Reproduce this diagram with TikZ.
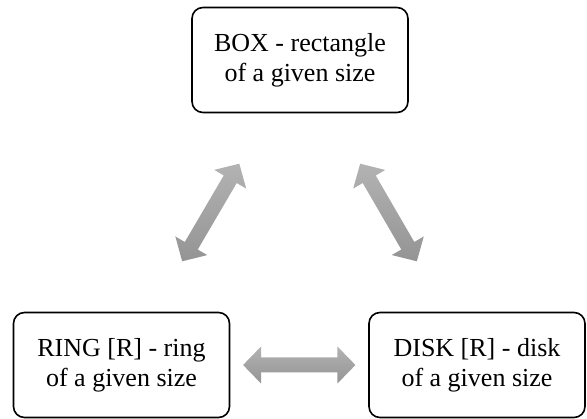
\documentclass[tikz,border=0pt]{standalone}
\usepackage{fontspec}
\newfontfamily\labelfont{Liberation Serif}
\usetikzlibrary{calc}

\tikzset{
  item/.style={draw, line width=1.6pt, rounded corners=11pt,
    minimum width=216pt, minimum height=105pt, inner sep=0pt,
    align=center, font=\labelfont\fontsize{26}{30}\selectfont,
    execute at begin node={\rule{0pt}{25pt}}},
  link/.style={top color=black!30, bottom color=black!42, draw=none}
}

% Two-headed block arrow between coordinates #2 and #3
\newcommand\blockarrow[3][]{%
  \shade[link,#1]
    (#2) -- ($(#2)!18pt!(#3)!18.5pt!90:(#3)$)
         -- ($(#2)!18pt!(#3)!7.5pt!90:(#3)$)
         -- ($(#3)!18pt!(#2)!7.5pt!-90:(#2)$)
         -- ($(#3)!18pt!(#2)!18.5pt!-90:(#2)$)
         -- (#3)
         -- ($(#3)!18pt!(#2)!18.5pt!90:(#2)$)
         -- ($(#3)!18pt!(#2)!7.5pt!90:(#2)$)
         -- ($(#2)!18pt!(#3)!7.5pt!-90:(#3)$)
         -- ($(#2)!18pt!(#3)!18.5pt!-90:(#3)$)
         -- cycle;}

\begin{document}
\begin{tikzpicture}[x=1pt, y=1pt]
  \useasboundingbox (0,0) rectangle (587,-419);

  \node[item] (box)  at (300,-60)  {BOX - rectangle\\of a given size};
  \node[item] (ring) at (121.5,-365) {RING [R] - ring\\of a given size};
  \node[item] (disk) at (477,-365) {DISK [R] - disk\\of a given size};

  \coordinate (rb1) at ($(ring)!0.34!(box)$);
  \coordinate (rb2) at ($(ring)!0.66!(box)$);
  \coordinate (bd1) at ($(box)!0.34!(disk)$);
  \coordinate (bd2) at ($(box)!0.66!(disk)$);
  \coordinate (rd1) at ($(ring)!0.342!(disk)$);
  \coordinate (rd2) at ($(ring)!0.658!(disk)$);

  \blockarrow{rb1}{rb2}
  \blockarrow{bd1}{bd2}
  \blockarrow{rd1}{rd2}
\end{tikzpicture}
\end{document}
